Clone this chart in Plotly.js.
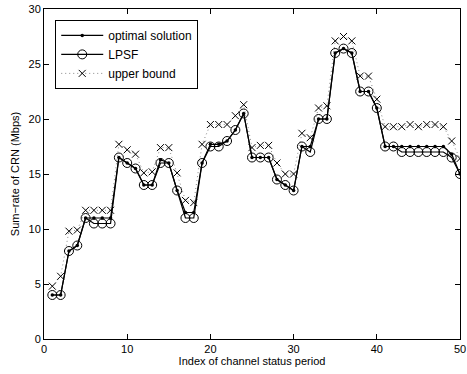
<!DOCTYPE html>
<html>
<head>
<meta charset="utf-8">
<script src="https://cdn.plot.ly/plotly-3.0.1.min.js"></script>
<style>html,body{margin:0;padding:0;background:#fff;}#chart{width:467px;height:374px;}</style>
</head>
<body>
<div id="chart"></div>
<script>
const periods = [1,2,3,4,5,6,7,8,9,10,11,12,13,14,15,16,17,18,19,20,21,22,23,24,25,26,27,28,29,30,31,32,33,34,35,36,37,38,39,40,41,42,43,44,45,46,47,48,49,50];
const optimal = [4.0,4.0,8.0,8.5,11.0,11.0,11.0,11.0,16.5,16.0,15.5,14.0,14.0,16.3,16.0,13.5,11.5,11.5,16.0,17.7,17.7,18.0,19.0,20.5,16.5,16.5,16.5,14.5,14.0,13.5,17.5,17.5,20.0,20.0,26.0,26.4,26.0,22.5,22.5,21.0,17.5,17.5,17.5,17.5,17.5,17.5,17.5,17.5,16.8,15.0];
const lpsf = [4.0,4.0,8.0,8.5,11.0,10.5,10.5,10.5,16.5,16.0,15.5,14.0,14.0,16.0,16.0,13.5,11.0,11.0,16.0,17.5,17.5,18.0,19.0,20.5,16.5,16.5,16.5,14.5,14.0,13.5,17.5,17.0,20.0,20.0,26.0,26.4,26.0,22.5,22.5,21.0,17.5,17.5,17.0,17.0,17.0,17.0,17.0,17.0,16.5,15.0];
const upper = [4.8,5.7,9.8,9.9,11.7,11.7,11.7,11.7,17.7,17.2,16.8,15.1,15.2,17.4,17.4,15.1,12.6,12.4,17.7,19.5,19.5,19.5,20.3,21.3,17.4,17.6,17.6,16.0,15.0,15.0,18.7,18.3,21.0,21.2,27.1,27.5,27.1,23.9,23.9,21.8,19.3,19.3,19.3,19.5,19.3,19.5,19.5,19.3,18.0,16.4];
const seriesNames = ['optimal solution','LPSF','upper bound'];
const xTicks = [0,10,20,30,40,50];
const yTicks = [0,5,10,15,20,25,30];

const traces = [
  {x: periods, y: optimal, name: seriesNames[0], type: 'scatter', mode: 'lines+markers',
   line: {color: '#000', width: 1.2}, marker: {symbol: 'circle', size: 3.5, color: '#000'}},
  {x: periods, y: lpsf, name: seriesNames[1], type: 'scatter', mode: 'lines+markers',
   line: {color: '#000', width: 1.2}, marker: {symbol: 'circle-open', size: 9, color: '#000', line: {width: 1, color: '#000'}}},
  {x: periods, y: upper, name: seriesNames[2], type: 'scatter', mode: 'lines+markers',
   line: {color: '#888', width: 1, dash: '1px,3px'}, marker: {symbol: 'x-thin-open', size: 7, color: '#000', line: {width: 1, color: '#000'}}}
];

const axisCommon = {
  showline: true, linecolor: '#000', linewidth: 1, mirror: 'ticks',
  ticks: 'inside', ticklen: 5, tickcolor: '#000', tickwidth: 1,
  showgrid: false, zeroline: false,
  tickfont: {family: 'Liberation Sans, Arial, sans-serif', size: 11, color: '#000'}
};

const layout = {
  width: 467, height: 374,
  margin: {l: 44, r: 7, t: 9, b: 35},
  paper_bgcolor: '#fff', plot_bgcolor: '#fff',
  font: {family: 'Liberation Sans, Arial, sans-serif', size: 11, color: '#000'},
  xaxis: Object.assign({}, axisCommon, {range: [0, 50], tickvals: xTicks, ticktext: xTicks.map(String),
    title: {text: 'Index of channel status period', font: {size: 11}, standoff: 2}}),
  yaxis: Object.assign({}, axisCommon, {range: [0, 30], tickvals: yTicks, ticktext: yTicks.map(String),
    title: {text: 'Sum\u2212rate of CRN (Mbps)', font: {size: 11}, standoff: 6}}),
  showlegend: true,
  legend: {x: 0.027, y: 0.967, xanchor: 'left', yanchor: 'top', bgcolor: '#fff',
    bordercolor: '#000', borderwidth: 1, font: {size: 12}, tracegroupgap: 0, itemwidth: 42}
};

Plotly.newPlot('chart', traces, layout, {displayModeBar: false, staticPlot: true});
</script>
</body>
</html>
